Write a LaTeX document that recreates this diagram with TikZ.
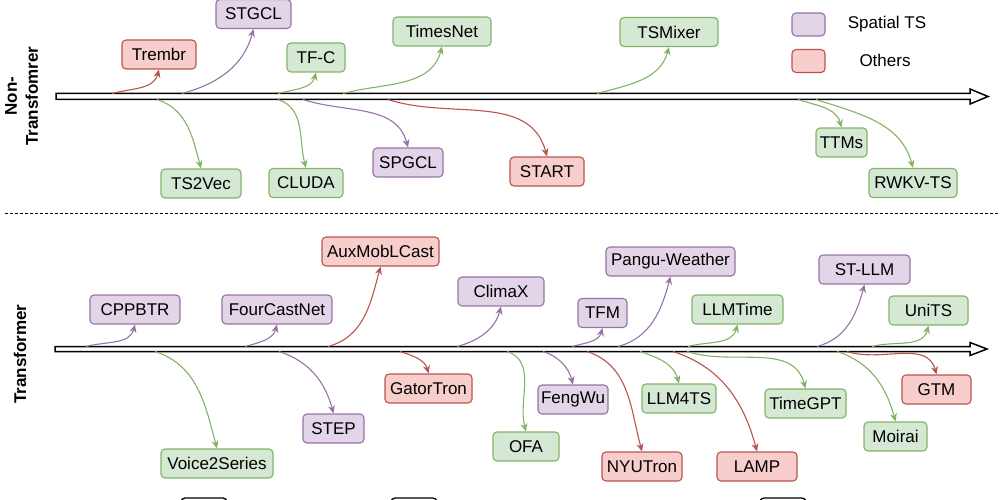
\documentclass[tikz,border=0pt]{standalone}
\usepackage{fontspec}
\setmainfont{Liberation Sans}
\usetikzlibrary{arrows.meta}
\definecolor{gfill}{HTML}{D5E8D4}
\definecolor{gline}{HTML}{82B366}
\definecolor{pfill}{HTML}{E1D5E7}
\definecolor{pline}{HTML}{9673A6}
\definecolor{rfill}{HTML}{F8CECC}
\definecolor{rline}{HTML}{B85450}
\tikzset{
  mbox/.style={rounded corners=4pt, line width=1.1pt, minimum height=29pt,
    inner sep=2pt, font=\fontsize{17}{20}\selectfont},
  gbox/.style={mbox, draw=gline, fill=gfill},
  pbox/.style={mbox, draw=pline, fill=pfill},
  rbox/.style={mbox, draw=rline, fill=rfill},
  edge/.style={line width=1.1pt, -{Stealth[length=8pt,width=7pt]}},
  toup/.style={out=15, in=-105},
  todown/.style={out=-18, in=105},
  lane/.style={draw=black, line width=1.5pt, fill=white},
  sidelab/.style={align=center, font=\bfseries\fontsize{17}{21}\selectfont},
}

\begin{document}
\begin{tikzpicture}[x=1pt, y=-1pt]
\useasboundingbox (0,0) rectangle (1000,500);
\clip (0,0) rectangle (1000,500);

% time lanes
\draw[lane] (56,93.5) -- (970,93.5) -- (970,89) -- (988,96.5) -- (970,104)
  -- (970,99.5) -- (56,99.5) -- cycle;
\draw[lane] (55,346.5) -- (970,346.5) -- (970,342.5) -- (987,349) -- (970,355.5)
  -- (970,351.5) -- (55,351.5) -- cycle;
\draw[line width=1.3pt, dash pattern=on 3pt off 2pt] (5,213.5) -- (998,213.5);

\node[sidelab, rotate=90] (lab-nt) at (21.5,96) {Non-\\Transfomrer};
\node[sidelab, rotate=90] (lab-t) at (20,354) {Transformer};

% legend
\node[gbox, minimum width=32pt, minimum height=23pt] (lg-g) at (807.5,-12.5) {};
\node[pbox, minimum width=33pt, minimum height=23pt] (lg-p) at (808.5,24.5) {};
\node[rbox, minimum width=33pt, minimum height=23pt] (lg-r) at (808.5,61) {};
\node[font=\fontsize{17}{20}\selectfont] (lt-p) at (887,24.5) {Spatial TS};
\node[font=\fontsize{17}{20}\selectfont] (lt-r) at (885,60) {Others};

% non-transformer
\node[rbox, minimum width=74pt] (trembr) at (159,54.5) {Trembr};
\node[pbox, minimum width=75pt] (stgcl) at (253.5,14) {STGCL};
\node[gbox, minimum width=58pt] (tfc) at (316,57.5) {TF-C};
\node[gbox, minimum width=98pt] (timesnet) at (442,31.5) {TimesNet};
\node[gbox, minimum width=98pt] (tsmixer) at (669,32) {TSMixer};
\node[gbox, minimum width=80pt] (ts2vec) at (201,183.5) {TS2Vec};
\node[gbox, minimum width=74pt] (cluda) at (306,183) {CLUDA};
\node[pbox, minimum width=70pt] (spgcl) at (408,162.5) {SPGCL};
\node[rbox, minimum width=74pt] (start) at (547,171.5) {START};
\node[gbox, minimum width=51pt] (ttms) at (841.5,142.5) {TTMs};
\node[gbox, minimum width=88pt] (rwkvts) at (913,183) {RWKV-TS};

% transformer
\node[pbox, minimum width=90pt] (cppbtr) at (135,309.5) {CPPBTR};
\node[pbox, minimum width=110pt] (fourcastnet) at (277,309.5) {FourCastNet};
\node[rbox, minimum width=117pt] (auxmoblcast) at (380.5,251.5) {AuxMobLCast};
\node[pbox, minimum width=86pt] (climax) at (501,291.5) {ClimaX};
\node[pbox, minimum width=49pt] (tfm) at (602.5,313) {TFM};
\node[pbox, minimum width=129pt] (pangu) at (670.5,261.5) {Pangu-Weather};
\node[gbox, minimum width=91pt] (llmtime) at (737.5,309.5) {LLMTime};
\node[pbox, minimum width=91pt] (stllm) at (864.5,269.5) {ST-LLM};
\node[gbox, minimum width=79pt] (units) at (928.5,310.5) {UniTS};
\node[gbox, minimum width=112pt] (voice2series) at (217,463.5) {Voice2Series};
\node[pbox, minimum width=61pt] (stepm) at (333.5,428.5) {STEP};
\node[rbox, minimum width=87pt] (gatortron) at (428.5,388.5) {GatorTron};
\node[gbox, minimum width=66pt] (ofa) at (526,446.5) {OFA};
\node[pbox, minimum width=70pt] (fengwu) at (573,399.5) {FengWu};
\node[rbox, minimum width=80pt] (nyutron) at (642,466.5) {NYUTron};
\node[gbox, minimum width=74pt] (llm4ts) at (679,398.5) {LLM4TS};
\node[rbox, minimum width=80pt] (lamp) at (757,466.5) {LAMP};
\node[gbox, minimum width=81pt] (timegpt) at (805.5,403.5) {TimeGPT};
\node[rbox, minimum width=69pt] (gtm) at (936.5,389.5) {GTM};
\node[gbox, minimum width=63pt] (moirai) at (895.5,436.5) {Moirai};

% links from the lanes
\foreach \n/\x/\c in {trembr/112/rline, stgcl/182/pline, tfc/278/gline,
    timesnet/343/gline, tsmixer/597/gline} {
  \coordinate (s-\n) at (\x,93.5);
  \draw[edge, \c] (s-\n) to[toup] (\n.south);
}
\foreach \n/\x/\c in {ts2vec/157/gline, cluda/278/gline, spgcl/303/pline,
    start/388/rline, ttms/798/gline, rwkvts/816/gline} {
  \coordinate (s-\n) at (\x,99.5);
  \draw[edge, \c] (s-\n) to[todown] (\n.north);
}
\foreach \n/\x/\c in {cppbtr/86/pline, fourcastnet/245/pline,
    auxmoblcast/328/rline, climax/457/pline, tfm/572/pline, pangu/618/pline,
    llmtime/688/gline, stllm/817/pline, units/872/gline} {
  \coordinate (s-\n) at (\x,346.5);
  \draw[edge, \c] (s-\n) to[toup] (\n.south);
}
\foreach \n/\x/\c in {voice2series/155/gline, stepm/279/pline,
    gatortron/400/rline, ofa/507/gline, fengwu/543/pline, nyutron/587/rline,
    llm4ts/640/gline, lamp/673/rline, timegpt/687/gline, moirai/837/gline,
    gtm/847/rline} {
  \coordinate (s-\n) at (\x,351.5);
  \draw[edge, \c] (s-\n) to[todown] (\n.north);
}

% cut boxes at the bottom edge
\foreach \x in {181,391,760}
  \draw[line width=1.3pt, rounded corners=4pt]
    (\x,520) -- (\x,498) -- (\x+46,498) -- (\x+46,520);
\end{tikzpicture}
\end{document}
